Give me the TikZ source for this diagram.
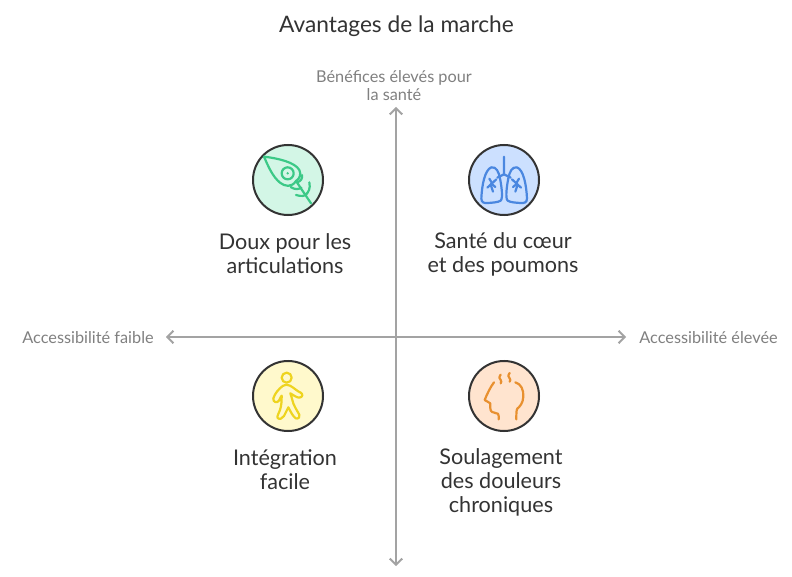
\documentclass[tikz,border=0pt]{standalone}
\usepackage{fontspec}
\setmainfont{Lato}
\usetikzlibrary{arrows.meta}
\definecolor{ink}{HTML}{333333}
\definecolor{axisgrey}{HTML}{A3A3A3}
\definecolor{labelgrey}{HTML}{808080}
\definecolor{gfill}{HTML}{D3F6E6}\definecolor{gline}{HTML}{3CC987}
\definecolor{bfill}{HTML}{CCE0FF}\definecolor{bline}{HTML}{4A87E0}
\definecolor{yfill}{HTML}{FFF9CC}\definecolor{yline}{HTML}{EED41F}
\definecolor{ofill}{HTML}{FFE4CF}\definecolor{oline}{HTML}{E8902F}
\tikzset{
  badge/.style={circle,draw=ink,line width=2pt,minimum size=70pt,inner sep=0pt},
  titletext/.style={text=ink,font=\fontsize{22.7}{24}\selectfont,align=center},
  quadtext/.style={text=ink,font=\fontsize{21.6}{24}\selectfont,align=center},
  axistext/.style={text=labelgrey,font=\fontsize{16.3}{18}\selectfont,align=center},
  axisline/.style={draw=axisgrey,line width=2pt,{Straight Barb[length=6pt,width=12.5pt]}-{Straight Barb[length=6pt,width=12.5pt]}},
  iconline/.style={line width=2.2pt,line cap=round,line join=round},
  iconbox/.style={x=0.3333pt,y=-0.3333pt}
}
\begin{document}
\begin{tikzpicture}[x=1pt,y=-1pt]
\useasboundingbox (0,0) rectangle (792,577);
\fill[white] (0,0) rectangle (792,577);
\coordinate (top) at (396,107);
\coordinate (bottom) at (396,566);
\coordinate (left) at (166,337);
\coordinate (right) at (626,337);
\draw[axisline] (bottom) -- (top);
\draw[axisline] (left) -- (right);
\node[titletext] (title) at (396.5,26) {Avantages de la marche};
\node[axistext] (ytop) at (394,86) {Bénéfices élevés pour\\la santé};
\node[axistext] (xleft) at (88,338) {Accessibilité faible};
\node[axistext] (xright) at (708.5,338) {Accessibilité élevée};
\node[badge,fill=gfill] (leaf) at (288,180) {};
\node[badge,fill=bfill] (lungs) at (504,180) {};
\node[badge,fill=yfill] (walker) at (288,396) {};
\node[badge,fill=ofill] (head) at (504,396) {};
\node[quadtext] (qa) at (285,254) {Doux pour les\\articulations};
\node[quadtext] (qb) at (503,254) {Santé du cœur\\et des poumons};
\node[quadtext] (qc) at (285,470) {Intégration\\facile};
\node[quadtext] (qd) at (501,482) {Soulagement\\des douleurs\\chroniques};
% leaf icon
\begin{scope}[shift={(240,135)},iconbox,iconline,draw=gline]
\draw (72,65) .. controls (115,70) and (165,82) .. (178,105) .. controls (184,118) and (180,130) .. (168,138) .. controls (155,158) and (135,155) .. (120,143) .. controls (98,125) and (85,95) .. cycle;
\draw (168,138) -- (213,205);
\draw (143,115) circle (18);
\fill[gline] (143,115) circle (4);
\draw (172,142) .. controls (183,138) and (188,130) .. (186,120);
\draw (152,156) .. controls (165,165) and (176,163) .. (184,158);
\draw (208,142) .. controls (212,160) and (206,172) .. (196,180);
\draw (168,180) .. controls (182,185) and (195,183) .. (200,178);
\end{scope}
% lungs icon
\begin{scope}[shift={(458,135)},iconbox,iconline,draw=bline]
\draw (138,65) -- (138,118) -- (118,128);
\draw (138,118) -- (158,128);
\draw (100,97) .. controls (80,105) and (72,150) .. (70,190) .. controls (70,203) and (78,205) .. (90,204) .. controls (105,203) and (120,202) .. (128,197) .. controls (136,190) and (130,150) .. (126,130) .. controls (122,110) and (115,95) .. (100,97) -- cycle;
\draw (115,133) -- (88,158);
\draw (94,131) -- (103,146);
\draw (100,146) -- (112,156);
\draw (98,149) -- (105,170);
\draw (177,97) .. controls (197,105) and (205,150) .. (207,190) .. controls (207,203) and (199,205) .. (187,204) .. controls (172,203) and (157,202) .. (149,197) .. controls (141,190) and (147,150) .. (151,130) .. controls (155,110) and (162,95) .. (177,97) -- cycle;
\draw (162,133) -- (189,158);
\draw (183,131) -- (174,146);
\draw (177,146) -- (165,156);
\draw (179,149) -- (172,170);
\end{scope}
% walker icon
\begin{scope}[shift={(240,350)},iconbox,iconline,draw=yline]
\draw (140,83) circle (15);
\draw (128,108) .. controls (115,118) and (105,130) .. (100,145) .. controls (98,157) and (112,160) .. (117,152) .. controls (120,146) and (122,140) .. (125,137) .. controls (125,150) and (125,165) .. (120,180) .. controls (117,190) and (110,198) .. (113,204) .. controls (118,210) and (128,205) .. (132,198) .. controls (137,190) and (140,180) .. (145,172) .. controls (152,185) and (158,198) .. (167,205) .. controls (175,208) and (182,200) .. (178,194) .. controls (170,180) and (160,165) .. (157,150) .. controls (156,142) and (152,135) .. (151,130) .. controls (160,135) and (170,143) .. (178,143) .. controls (188,142) and (190,132) .. (182,128) .. controls (172,124) and (160,112) .. (150,107) .. controls (142,103) and (134,103) .. cycle;
\end{scope}
% head icon
\begin{scope}[shift={(458,350)},iconbox,iconline,draw=oline]
\draw (108,97) .. controls (98,110) and (88,130) .. (80,150) -- (97,160) -- (97,175) .. controls (97,185) and (105,189) .. (112,189) .. controls (120,189) and (122,192) .. (122,198) -- (122,208);
\draw (172,97) .. controls (190,102) and (197,120) .. (196,140) .. controls (195,160) and (185,170) .. (178,176) .. controls (175,180) and (175,190) .. (175,208);
\draw (128,74) .. controls (122,82) and (124,86) .. (128,90) .. controls (131,93) and (130,97) .. (128,100);
\draw (155,69) .. controls (149,77) and (151,81) .. (155,85) .. controls (158,88) and (157,92) .. (155,95);
\end{scope}
\end{tikzpicture}
\end{document}
